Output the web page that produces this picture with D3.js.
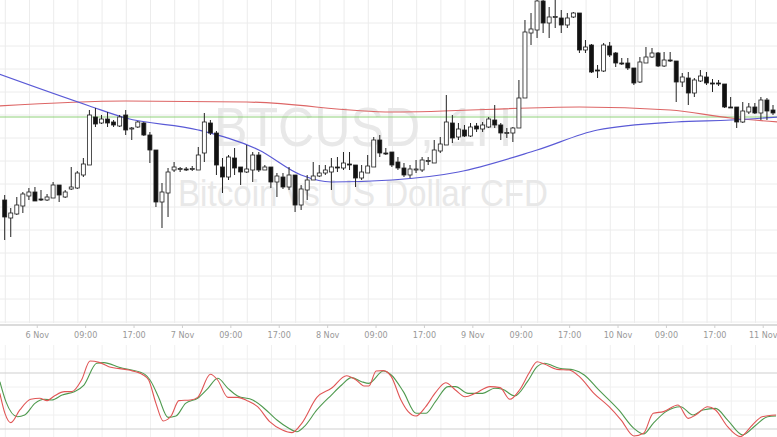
<!DOCTYPE html>
<meta charset="utf-8">
<style>
body { margin: 0; background: #fff; }
.tick text { font: 9px "Liberation Sans Narrow", "DejaVu Sans Condensed", sans-serif; fill: #999; }
</style>
<svg width="777" height="437"></svg>
<script src="https://d3js.org/d3.v7.min.js"></script>
<script>
// hourly candles, index 0..127 (price)
var open  = [700.0,698.2,698.6,699.4,700.4,700.8,700.1,700.0,700.2,701.5,700.3,701.1,701.2,702.5,703.5,708.3,707.7,708.1,707.8,707.4,708.5,707.1,707.3,707.7,706.5,705.0,699.8,700.7,703.0,703.1,703.1,703.1,703.0,704.7,707.7,706.7,703.3,702.3,704.2,703.3,702.8,703.0,704.5,703.0,703.3,701.8,702.3,701.3,702.5,699.5,701.0,702.0,702.4,702.7,702.8,703.3,703.2,703.6,703.5,702.2,702.7,703.3,706.0,704.7,704.8,703.8,703.2,702.5,703.0,703.0,703.9,703.7,704.9,705.5,707.7,706.3,707.0,706.4,707.4,707.1,707.3,708.0,707.5,706.7,706.7,707.2,710.2,716.7,717.0,719.9,717.7,718.3,718.2,717.5,718.3,718.7,715.0,715.5,713.0,712.9,715.4,714.7,713.7,713.7,713.2,711.8,713.7,714.3,714.7,713.4,714.0,713.9,711.8,712.2,710.7,711.9,712.3,711.7,711.7,711.6,709.3,709.3,707.8,708.8,709.3,708.7,710.0,709.0];
var high  = [700.5,699.2,700.3,700.8,701.2,701.3,701.0,700.6,701.8,701.5,701.0,703.3,702.9,704.2,709.0,709.2,708.5,708.8,708.0,708.5,709.0,707.3,707.9,707.8,706.8,705.0,701.7,703.2,703.8,703.3,703.3,703.4,705.3,708.7,708.0,706.9,704.2,704.5,705.2,703.3,705.5,704.8,704.8,703.5,703.3,702.7,702.7,703.3,702.5,701.5,702.5,703.8,703.5,703.5,704.2,704.3,704.8,704.8,703.5,703.5,704.5,706.3,706.5,705.2,704.8,704.3,703.7,703.5,704.0,704.3,704.3,706.0,706.3,710.5,708.5,707.7,707.5,707.7,707.7,707.8,708.3,709.5,707.7,707.2,707.3,712.0,718.0,718.7,720.2,720.3,719.3,720.2,719.0,718.7,718.8,718.7,716.0,715.6,713.5,715.7,715.8,714.8,714.2,714.2,713.2,714.3,715.3,715.2,714.8,714.8,714.8,713.9,712.7,712.8,712.2,713.0,712.8,712.1,712.0,711.6,710.3,709.3,709.8,709.7,709.7,710.3,710.2,709.5];
var low   = [696.0,696.3,698.5,698.7,700.0,699.9,699.9,699.9,700.2,699.8,700.2,701.0,701.1,702.3,703.5,707.3,707.6,707.3,707.3,707.3,706.5,706.0,707.2,706.4,703.7,699.3,697.2,698.3,702.8,702.8,702.9,702.9,703.0,703.8,706.5,702.5,700.7,702.0,702.5,701.5,702.7,701.8,702.8,703.0,701.2,700.3,701.1,701.0,698.8,699.0,700.0,702.0,702.3,702.5,701.0,702.8,703.0,703.0,701.3,702.0,702.7,703.3,704.3,704.5,703.3,703.0,702.3,702.2,702.7,702.8,703.5,703.7,704.7,705.5,705.7,706.0,706.3,706.3,706.8,706.8,707.2,707.2,706.0,706.2,705.8,707.2,710.2,715.5,716.2,716.7,716.2,717.2,716.7,717.2,718.2,714.7,714.7,712.7,712.2,712.8,714.3,713.3,713.5,713.0,711.5,711.7,713.7,714.2,713.3,713.3,713.8,709.8,711.3,709.5,710.3,711.8,711.5,710.8,711.4,709.2,709.2,707.2,707.7,708.6,708.6,708.0,708.0,708.5];
var close = [698.3,698.7,699.5,700.6,700.8,699.9,700.0,700.3,701.5,700.5,700.8,701.3,702.7,703.6,708.5,707.6,708.1,707.7,707.5,708.3,707.0,707.2,707.8,706.5,705.0,699.8,700.8,702.8,703.3,703.15,703.05,703.15,704.5,707.8,706.7,703.5,702.3,704.3,703.2,702.8,703.1,704.5,703.0,703.3,701.8,702.4,701.3,702.5,699.5,701.1,702.0,702.4,702.7,703.0,703.3,703.25,703.7,703.55,702.2,702.8,703.4,706.0,704.7,704.65,703.5,703.2,702.5,703.1,703.1,704.0,703.95,705.0,705.6,707.8,706.2,707.1,706.4,707.3,707.1,707.5,708.1,707.5,706.7,706.75,707.2,710.2,716.8,717.1,719.9,717.7,718.3,718.35,717.5,718.2,718.7,715.0,715.3,712.8,712.95,715.5,714.5,713.7,713.65,713.2,711.7,713.8,714.3,714.7,713.4,714.0,713.95,711.8,712.3,710.7,712.0,712.4,711.7,711.65,711.65,709.3,709.25,707.8,708.9,709.3,708.7,710.0,708.9,708.7];

// moving averages (candle index, price)
var maRedIdx  = [-1,20,40,64,95,110,120,128];
var maRed     = [709.4,709.9,709.8,708.8,709.3,709.0,708.2,707.8];
var maBlueIdx = [-1,14,20,32,42,49,54,64,75,88,98,111,120,128];
var maBlue    = [712.6,709.4,708.2,707.0,705.0,702.5,701.8,702.0,702.8,705.0,707.0,707.8,708.0,708.3];
var levelPrice = 708.3;

// stochastic %K (red) and %D (green): candle index, value
var kIdx = [-0.8,0.04,1.02,2.5,4.3,5.8,7.0,8.2,9.9,11.1,12.7,14.1,15.6,17.2,20.5,22.9,23.8,25.0,26.2,27.5,28.8,30.7,31.9,34.0,35.2,36.9,38.5,40.1,41.8,43.8,45.9,47.5,49.1,51.6,54.0,56.5,58.1,59.4,60.2,61.4,62.6,63.9,65.5,66.7,68.0,69.6,71.2,72.9,74.5,76.1,77.8,80.2,81.9,83.5,85.1,86.8,88.0,89.2,91.3,93.3,95.0,97.4,99.9,101.9,104.0,105.6,107.2,108.9,111.3,113.0,114.2,116.2,117.5,119.5,121.6,123.6,125.2,127.5];
var kVal = [58.2,36.8,26.8,40.4,51.8,52.9,50.4,55.4,60.0,60.0,72.5,92.9,91.4,86.8,83.2,77.9,72.5,47.5,28.6,33.9,50.4,51.1,53.9,78.6,72.5,53.9,53.9,50.4,43.9,27.9,18.9,16.1,26.1,53.9,63.6,77.1,72.5,66.1,66.1,82.1,82.5,76.1,51.1,38.6,33.9,43.9,58.9,69.6,61.8,54.6,58.2,65.4,64.3,51.8,61.8,81.4,92.1,89.6,83.9,83.2,76.1,58.2,43.9,29.6,12.5,15.4,36.8,38.6,45.7,31.4,35.0,43.9,40.4,22.5,11.8,24.3,33.2,35.0];
var dIdx = [-0.8,0.2,2.1,3.3,5.0,6.6,7.8,9.5,11.5,13.1,15.2,16.4,18.9,22.9,24.2,25.4,27.0,28.3,29.9,31.9,33.6,35.2,36.9,38.5,41.0,42.6,45.0,46.7,48.3,49.5,51.6,54.0,55.7,57.3,59.0,60.2,62.6,63.9,65.9,68.0,69.6,71.2,73.3,74.5,76.6,79.0,81.0,82.3,84.3,86.4,88.0,89.2,91.7,94.1,95.8,98.2,101.5,104.0,105.6,107.2,109.3,111.7,113.8,115.4,117.5,119.5,122.0,124.0,126.1,127.5];
var dVal = [70.7,49.3,33.2,35.0,47.5,51.8,51.1,56.4,60.0,67.1,90.4,91.1,86.1,79.6,70.7,54.6,32.5,33.9,47.5,52.9,63.6,74.3,63.6,55.4,51.1,43.9,29.6,21.8,17.1,22.5,40.4,56.4,67.1,75.0,70.7,68.9,82.1,77.9,60.0,36.8,36.8,49.3,65.4,65.4,58.2,58.2,63.6,62.5,55.4,70.7,86.8,90.4,85.0,83.2,77.9,61.8,40.4,20.7,14.6,26.1,38.6,43.9,35.0,40.4,42.1,29.6,13.6,23.2,33.2,33.9];

// time axis labels at candle index
var tickIdx = [5.3,13.3,21.3,29.3,37.3,45.3,53.3,61.3,69.3,77.3,85.3,93.3,101.3,109.3,117.3,125.3];
var tickLabels = ["6 Nov","09:00","17:00","7 Nov","09:00","17:00","8 Nov","09:00","17:00","9 Nov","09:00","17:00","10 Nov","09:00","17:00","11 Nov"];
var gridIdx = d3.range(0.1, 130, 4);
var gridPrice = d3.range(717.7, 687, -2.3);
var stochGrid = [95, 80, 65, 50, 35, 20];

var svg = d3.select("svg");
var x = d3.scaleLinear().domain([0, 127]).range([4.7, 773]);
var y = d3.scaleLinear().domain([720, 688]).range([0, 320]);
var ys = d3.scaleLinear().domain([80, 20]).range([373, 429]);

// grids
svg.append("g").selectAll("line").data(gridIdx).join("line")
  .attr("x1", d => x(d)).attr("x2", d => x(d)).attr("y1", 0).attr("y2", 323)
  .attr("stroke", "#ececec");
svg.append("g").selectAll("line").data(gridPrice).join("line")
  .attr("x1", 0).attr("x2", 777).attr("y1", d => y(d)).attr("y2", d => y(d))
  .attr("stroke", "#ececec");
svg.append("g").selectAll("line").data(gridIdx).join("line")
  .attr("x1", d => x(d)).attr("x2", d => x(d)).attr("y1", 345).attr("y2", 437)
  .attr("stroke", "#f0f0f0");
svg.append("g").selectAll("line").data(stochGrid).join("line")
  .attr("x1", 0).attr("x2", 777).attr("y1", d => ys(d)).attr("y2", d => ys(d))
  .attr("stroke", d => (d == 80 || d == 20) ? "#cfcfcf" : "#f0f0f0");

// watermark
svg.append("text").attr("x", 214).attr("y", 146).text("BTCUSD, 1H")
  .attr("textLength", 298).attr("lengthAdjust", "spacingAndGlyphs")
  .attr("font-family", "Liberation Sans, sans-serif").attr("font-size", 56).attr("fill", "#e8e8e8");
svg.append("text").attr("x", 178).attr("y", 206).text("Bitcoin vs US Dollar CFD")
  .attr("textLength", 370).attr("lengthAdjust", "spacingAndGlyphs")
  .attr("font-family", "Liberation Sans, sans-serif").attr("font-size", 37).attr("fill", "#e8e8e8");

// moving averages and level
var ln = d3.line().curve(d3.curveMonotoneX);
svg.append("line").attr("x1", 0).attr("x2", 777)
  .attr("y1", y(levelPrice)).attr("y2", y(levelPrice)).attr("stroke", "#8fd17a").attr("stroke-width", 1.2);
svg.append("path").attr("d", ln(maRedIdx.map((d, i) => [x(d), y(maRed[i])])))
  .attr("fill", "none").attr("stroke", "#dd6666").attr("stroke-width", 1.2);
svg.append("path").attr("d", ln(maBlueIdx.map((d, i) => [x(d), y(maBlue[i])])))
  .attr("fill", "none").attr("stroke", "#5a5ad6").attr("stroke-width", 1.2);

// candles
var candles = svg.append("g").selectAll("g").data(d3.range(open.length)).join("g");
candles.append("line")
  .attr("x1", i => x(i)).attr("x2", i => x(i))
  .attr("y1", i => y(high[i])).attr("y2", i => y(low[i]))
  .attr("stroke", "#222").attr("stroke-width", 1);
candles.append("rect")
  .attr("x", i => x(i) - 2).attr("width", 4)
  .attr("y", i => y(Math.max(open[i], close[i])))
  .attr("height", i => Math.max(1, Math.abs(y(open[i]) - y(close[i]))))
  .attr("fill", i => close[i] < open[i] ? "#111" : "#fff")
  .attr("stroke", "#222").attr("stroke-width", 0.8);

// time axis
var axis = svg.append("g").attr("transform", "translate(0,325)")
  .call(d3.axisBottom(x).tickValues(tickIdx).tickFormat((d, i) => tickLabels[i]).tickSize(3).tickPadding(4));
axis.select(".domain").attr("d", "M0,0H777").attr("stroke", "#cfcfcf").attr("stroke-width", 1.5);
axis.selectAll(".tick line").attr("stroke", "#cfcfcf");

// stochastic
svg.append("path").attr("d", ln(dIdx.map((d, i) => [x(d), ys(dVal[i])])))
  .attr("fill", "none").attr("stroke", "#4f9a4f").attr("stroke-width", 1.1);
svg.append("path").attr("d", ln(kIdx.map((d, i) => [x(d), ys(kVal[i])])))
  .attr("fill", "none").attr("stroke", "#e05555").attr("stroke-width", 1.1);
</script>
